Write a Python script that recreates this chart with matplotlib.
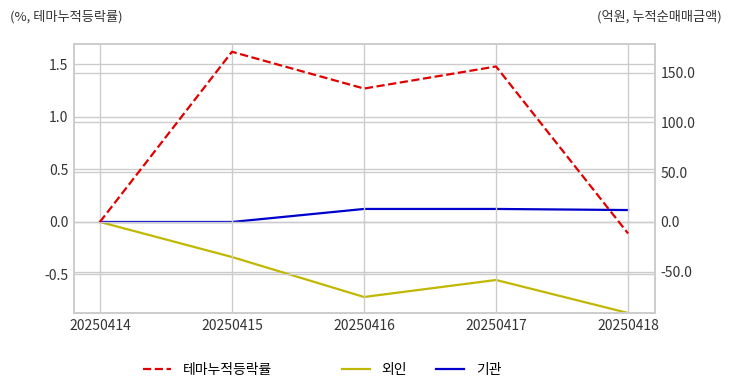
#!/usr/bin/env python3

import numpy as np
import matplotlib
matplotlib.use("Agg")
import matplotlib.pyplot as plt

plt.rcParams["font.family"] = ["Noto Sans CJK KR", "DejaVu Sans"]
plt.rcParams["axes.unicode_minus"] = False


# ==================================================
# data
# ==================================================

dates = ["20250414", "20250415", "20250416", "20250417", "20250418"]

theme = [0.0, 1.62, 1.27, 1.48, -0.11]      # %, left axis
foreign = [0.0, -35.2, -75.4, -58.3, -91.5]  # 억원, right axis
inst = [0.0, 0.0, 13.1, 13.1, 12.0]          # 억원, right axis


# ==================================================
# plot
# ==================================================

fig = plt.figure(figsize=(7.32, 3.92), dpi=100)
ax1 = fig.add_axes([0.101, 0.2015, 0.794, 0.6865])
ax2 = ax1.twinx()

x = np.arange(len(dates))

l1, = ax1.plot(x, theme, "--", color="#e00000", lw=1.6, label="테마누적등락률")
l2, = ax2.plot(x, foreign, "-", color="#c0b800", lw=1.6, label="외인")
l3, = ax2.plot(x, inst, "-", color="#0000cc", lw=1.6, label="기관")

ax1.set_xlim(-0.197, 4.205)
ax1.set_ylim(-0.867, 1.695)
ax2.set_ylim(-91.5, 179)

ax1.set_xticks(x)
ax1.set_xticklabels(dates)
ax1.set_yticks([-0.5, 0.0, 0.5, 1.0, 1.5])
ax2.set_yticks([-50, 0, 50, 100, 150])
ax2.set_yticklabels([f"{v:.1f}" for v in [-50, 0, 50, 100, 150]])

for ax in (ax1, ax2):
    ax.grid(True, color="#cccccc", lw=1)
    ax.tick_params(length=0, labelsize=10, colors="#333333", pad=4)
    for s in ax.spines.values():
        s.set_color("#cccccc")
        s.set_linewidth(1.2)
ax1.set_axisbelow(True)
ax2.set_zorder(ax1.get_zorder() - 1)
ax1.patch.set_visible(False)

fig.text(0.014, 0.957, "(%, 테마누적등락률)", fontsize=9.5, color="#333333",
         ha="left", va="center")
fig.text(0.986, 0.957, "(억원, 누적순매매금액)", fontsize=9.5, color="#333333",
         ha="right", va="center")

fig.legend(handles=[l1], loc="center", bbox_to_anchor=(0.2835, 0.057),
           frameon=False, fontsize=10, handlelength=2.0, handletextpad=0.85)
fig.legend(handles=[l2, l3], loc="center", bbox_to_anchor=(0.576, 0.057),
           frameon=False, fontsize=10, handlelength=2.0, handletextpad=0.85,
           ncol=2, columnspacing=2.1)

plt.savefig("out.png", dpi=100)
plt.close()
